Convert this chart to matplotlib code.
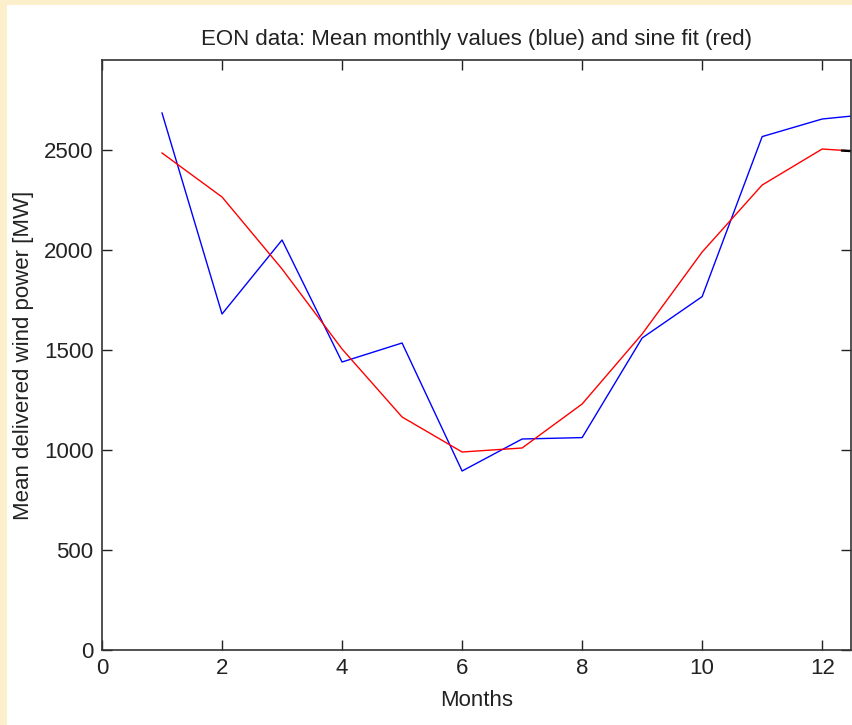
import matplotlib.pyplot as plt
from matplotlib.patches import Rectangle

# monthly means (blue) and sine fit (red), month 13 wraps back to January
months = [1, 2, 3, 4, 5, 6, 7, 8, 9, 10, 11, 12, 13]
mean_power = [2685, 1680, 2050, 1440, 1535, 895, 1055, 1062, 1560, 1767, 2567, 2655, 2685]
sine_fit = [2485, 2265, 1905, 1505, 1165, 990, 1010, 1230, 1580, 1990, 2325, 2505, 2485]

# short black stroke near the right edge
black_x = [12.33, 13]
black_y = [2497, 2485]

xticks = [0, 2, 4, 6, 8, 10, 12]
yticks = [0, 500, 1000, 1500, 2000, 2500]

plt.rcParams['font.family'] = ['Liberation Sans', 'DejaVu Sans']

fig = plt.figure(figsize=(8.52, 7.25), dpi=100)
fig.patch.set_facecolor('#fcf0cc')
# white panel inside the cream border
panel = Rectangle((7 / 852, 0), 1, 1 - 5 / 725, transform=fig.transFigure,
                  facecolor='white', edgecolor='none', zorder=-5)
fig.add_artist(panel)

ax = fig.add_axes([102 / 852, 1 - 650 / 725, 749 / 852, 590 / 725])
ax.set_zorder(2)
ax.plot(months, mean_power, color='#0000ff', lw=1.0)
ax.plot(months, sine_fit, color='#ff0000', lw=1.0)
ax.plot(black_x, black_y, color='black', lw=1.6)

ax.set_xlim(0, 12.48)
ax.set_ylim(0, 2950)
ax.set_xticks(xticks)
ax.set_yticks(yticks)

ax.tick_params(direction='in', length=7, width=1, top=True, right=True,
               labelsize=16, colors='#222222', pad=6)
for sp in ax.spines.values():
    sp.set_color('#333333')
    sp.set_linewidth(1.2)

ax.set_title('EON data: Mean monthly values (blue) and sine fit (red)',
             fontsize=16, color='#222222', pad=11)
ax.set_xlabel('Months', fontsize=16, color='#222222', labelpad=8)
ax.set_ylabel('Mean delivered wind power [MW]', fontsize=16, color='#222222', labelpad=7)

plt.savefig('out.png', dpi=100, facecolor=fig.get_facecolor())
